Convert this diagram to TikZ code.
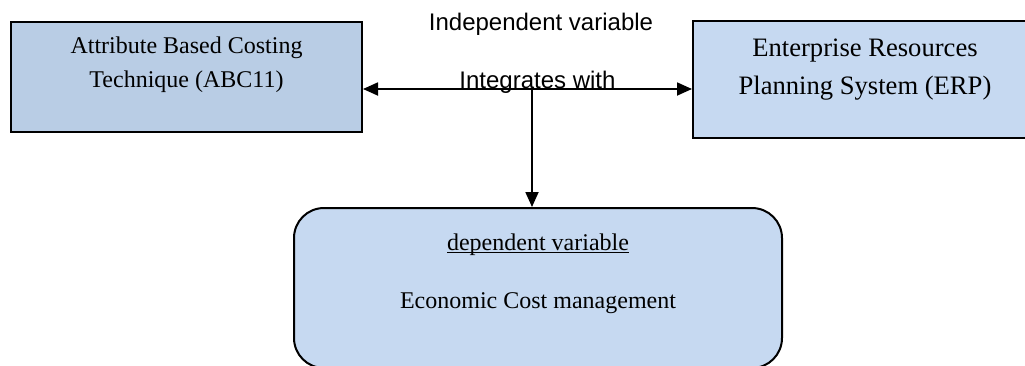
\documentclass[tikz,border=0pt]{standalone}
\usepackage{fontspec}
\setmainfont{Liberation Serif}
\setsansfont{Liberation Sans}
\usepackage{tikz}
\usetikzlibrary{calc, positioning, arrows.meta}
\definecolor{abcblue}{HTML}{B9CDE5}
\definecolor{erpblue}{HTML}{C6D9F1}
\tikzset{
    techbox/.style={rectangle, draw=black, line width=1pt, fill=abcblue, align=center, minimum width=175.5pt, inner ysep=0pt, text height=32.5pt, text depth=22.5pt, font=\fontsize{12}{17}\selectfont},
    erpbox/.style={rectangle, draw=black, line width=1pt, fill=erpblue, align=center, minimum width=172pt, inner ysep=0pt, text height=36.5pt, text depth=22pt, font=\fontsize{13.3}{19}\selectfont},
    costbox/.style={rectangle, rounded corners=15pt, draw=black, line width=1pt, fill=erpblue, align=center, minimum width=244pt, inner ysep=0pt, text height=50pt, text depth=30pt, font=\fontsize{12}{29}\selectfont},
    caption/.style={font=\sffamily\fontsize{12}{14}\selectfont, anchor=base, inner sep=0pt},
    tip/.style={Triangle[length=7.5pt,width=6.5pt]},
    arrow/.style={-{Triangle[length=7.5pt,width=6.5pt]}, line width=0.9pt}
}

\begin{document}
\begin{tikzpicture}[x=0.5pt, y=-0.5pt]
    \useasboundingbox (0,0) rectangle (1025,365);

    % Boxes
    \node[techbox] (abc) at (186.5,77) {Attribute Based Costing\\Technique (ABC11)};
    \node[erpbox] (erp) at (865,79.5) {Enterprise Resources\\Planning System (ERP)};
    \node[costbox] (ecm) at (538,288) {\underline{\smash{dependent variable}}\\Economic Cost management};

    % Connectors
    \coordinate (hub) at (532,89);
    \draw[arrow, {Triangle[length=7.5pt,width=6.5pt]}-{Triangle[length=7.5pt,width=6.5pt]}] (hub -| abc.east) -- (hub -| erp.west);
    \draw[arrow] (hub) -- (hub |- ecm.north);

    % Labels
    \node[caption] (indep) at (541,30) {Independent variable};
    \node[caption] (integ) at (537.5,88) {Integrates with};
\end{tikzpicture}
\end{document}
